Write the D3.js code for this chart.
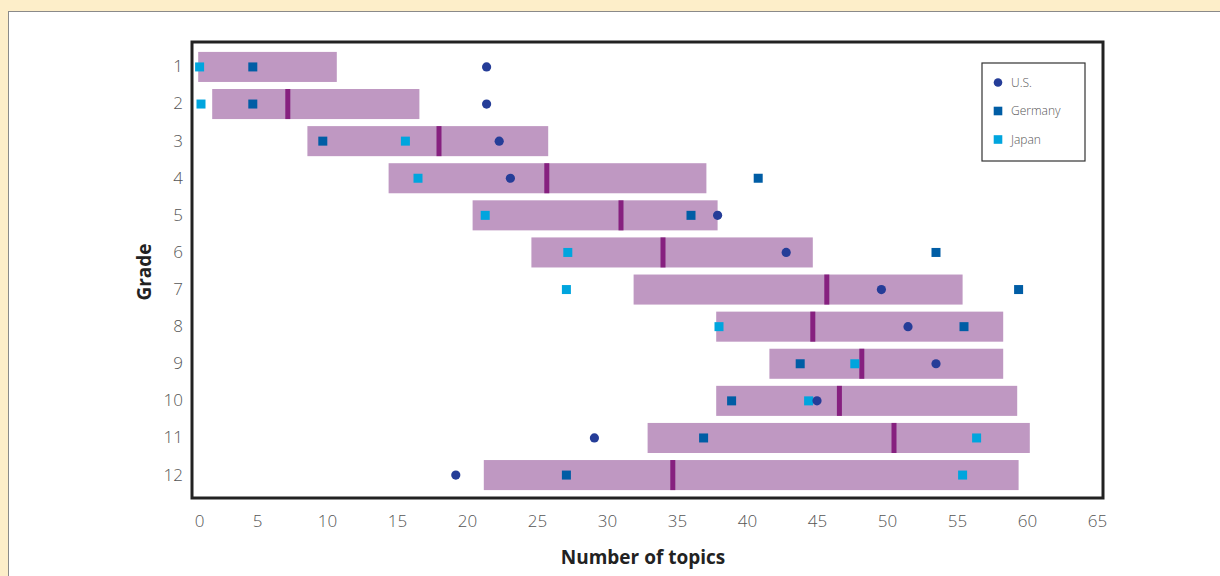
<!DOCTYPE html>
<html>
<head>
<meta charset="utf-8">
<title>Number of topics by grade</title>
<script src="https://d3js.org/d3.v7.min.js"></script>
<style>
  body { margin: 0; background: #fdeec9; }
  svg { display: block; }
  .tick text { font-family: "Open Sans", sans-serif; font-weight: 300; fill: #555; }
</style>
</head>
<body>
<svg width="1220" height="576"></svg>
<script>
// values
const grades   = [1, 2, 3, 4, 5, 6, 7, 8, 9, 10, 11, 12];
const barStart = [0.8, 1.8, 8.6, 14.4, 20.4, 24.6, 31.9, 37.8, 41.6, 37.8, 32.9, 21.2];
const barEnd   = [10.7, 16.6, 25.8, 37.1, 37.9, 44.7, 55.4, 58.3, 58.3, 59.3, 60.2, 59.4];
const median   = [null, 7.2, 18.0, 25.7, 31.0, 34.0, 45.7, 44.7, 48.2, 46.6, 50.5, 34.7];
const us       = [21.4, 21.4, 22.3, 23.1, 37.9, 42.8, 49.6, 51.5, 53.5, 45.0, 29.1, 19.2];
const germany  = [4.7, 4.7, 9.7, 40.8, 36.0, 53.5, 59.4, 55.5, 43.8, 38.9, 36.9, 27.1];
const japan    = [0.9, 1.0, 15.6, 16.5, 21.3, 27.2, 27.1, 38.0, 47.7, 44.4, 56.4, 55.4];
const xTicks   = d3.range(0, 66, 5);

const col = {bar: "#bf98c2", med: "#86207f", us: "#253d98", de: "#005da5", jp: "#00a5de"};

const svg = d3.select("svg");

// white panel on the cream page
svg.append("rect")
  .attr("x", 8.5).attr("y", 11.5).attr("width", 1230).attr("height", 600)
  .attr("fill", "#fff").attr("stroke", "#8a8a8a").attr("stroke-width", 1);

const frame = {left: 192, top: 42, right: 1103, bottom: 498};

const x = d3.scaleLinear().domain([0, 65]).range([187, 1097]);
const y = d3.scaleBand().domain(grades).range([frame.top + 1, frame.bottom + 1])
  .paddingInner(0.19).paddingOuter(0.24);

const rows = grades.map((g, i) => ({
  g: g, s: barStart[i], e: barEnd[i], m: median[i],
  us: us[i], de: germany[i], jp: japan[i]
}));

// bars
svg.append("g").selectAll("rect")
  .data(rows).enter().append("rect")
  .attr("x", d => x(d.s))
  .attr("y", d => y(d.g))
  .attr("width", d => x(d.e) - x(d.s))
  .attr("height", y.bandwidth())
  .attr("fill", col.bar);

// medians
svg.append("g").selectAll("rect")
  .data(rows.filter(d => d.m != null)).enter().append("rect")
  .attr("x", d => x(d.m) - 2.5)
  .attr("y", d => y(d.g))
  .attr("width", 5)
  .attr("height", y.bandwidth())
  .attr("fill", col.med);

const sq = 9;
function squares(key, color) {
  svg.append("g").selectAll("rect")
    .data(rows).enter().append("rect")
    .attr("x", d => x(d[key]) - sq / 2)
    .attr("y", d => y(d.g) + y.bandwidth() / 2 - sq / 2)
    .attr("width", sq).attr("height", sq)
    .attr("fill", color);
}
squares("de", col.de);
squares("jp", col.jp);

svg.append("g").selectAll("circle")
  .data(rows).enter().append("circle")
  .attr("cx", d => x(d.us))
  .attr("cy", d => y(d.g) + y.bandwidth() / 2)
  .attr("r", 4.6)
  .attr("fill", col.us);

// plot frame
svg.append("rect")
  .attr("x", frame.left).attr("y", frame.top)
  .attr("width", frame.right - frame.left).attr("height", frame.bottom - frame.top)
  .attr("fill", "none").attr("stroke", "#222").attr("stroke-width", 3);

// axes
const xAxis = svg.append("g")
  .attr("transform", "translate(0," + frame.bottom + ")")
  .call(d3.axisBottom(x).tickValues(xTicks).tickSize(0).tickPadding(17));
xAxis.select(".domain").remove();
xAxis.selectAll("text").attr("font-size", 17);
xAxis.selectAll(".tick").filter(d => d === 0).select("text").attr("dx", 12);

const yAxis = svg.append("g")
  .attr("transform", "translate(" + frame.left + ",0)")
  .call(d3.axisLeft(y).tickSize(0).tickPadding(9));
yAxis.select(".domain").remove();
yAxis.selectAll("text").attr("font-size", 17);

// axis titles
svg.append("text")
  .attr("x", 643).attr("y", 564)
  .attr("text-anchor", "middle")
  .attr("font-family", "'Open Sans', sans-serif").attr("font-weight", 700)
  .attr("font-size", 19).attr("fill", "#222")
  .text("Number of topics");

svg.append("text")
  .attr("transform", "translate(151,272) rotate(-90)")
  .attr("text-anchor", "middle")
  .attr("font-family", "'Open Sans', sans-serif").attr("font-weight", 700)
  .attr("font-size", 19).attr("fill", "#222")
  .text("Grade");

// legend
const lg = svg.append("g").attr("transform", "translate(982,63)");
lg.append("rect").attr("width", 103).attr("height", 98)
  .attr("fill", "#fff").attr("stroke", "#333").attr("stroke-width", 1.2);
const items = [
  {label: "U.S.", color: col.us, shape: "circle"},
  {label: "Germany", color: col.de, shape: "square"},
  {label: "Japan", color: col.jp, shape: "square"}
];
const li = lg.selectAll("g.item").data(items).enter().append("g")
  .attr("class", "item")
  .attr("transform", (d, i) => "translate(16," + (19.5 + i * 28.5) + ")");
li.filter(d => d.shape === "circle").append("circle")
  .attr("r", 4.3).attr("fill", d => d.color);
li.filter(d => d.shape === "square").append("rect")
  .attr("x", -4.3).attr("y", -4.3).attr("width", 8.6).attr("height", 8.6)
  .attr("fill", d => d.color);
li.append("text")
  .attr("x", 13).attr("dy", "0.35em")
  .attr("font-family", "'Open Sans', sans-serif").attr("font-weight", 300)
  .attr("font-size", 12).attr("fill", "#555")
  .text(d => d.label);
</script>
</body>
</html>
